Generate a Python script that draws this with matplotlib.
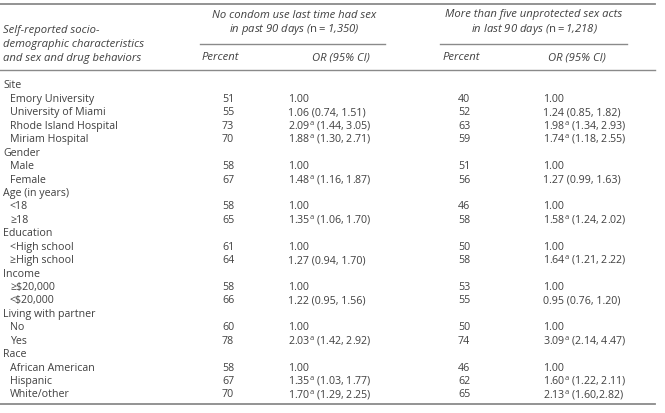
import matplotlib
matplotlib.use("Agg")
import matplotlib.pyplot as plt

plt.rcParams['font.family'] = ['Open Sans', 'DejaVu Sans']
plt.rcParams['mathtext.fontset'] = 'custom'
plt.rcParams['mathtext.rm'] = 'Open Sans'
plt.rcParams['mathtext.it'] = 'Open Sans:italic'

# ---- data ----
labels = ["Site", "Emory University", "University of Miami", "Rhode Island Hospital", "Miriam Hospital",
          "Gender", "Male", "Female",
          "Age (in years)", "<18", "≥18",
          "Education", "<High school", "≥High school",
          "Income", "≥$20,000", "<$20,000",
          "Living with partner", "No", "Yes",
          "Race", "African American", "Hispanic", "White/other"]
is_group = [True, False, False, False, False,
            True, False, False,
            True, False, False,
            True, False, False,
            True, False, False,
            True, False, False,
            True, False, False, False]

pct1 = ["", "51", "55", "73", "70", "", "58", "67", "", "58", "65", "", "61", "64",
        "", "58", "66", "", "60", "78", "", "58", "67", "70"]
or1 = ["", "1.00", "1.06", "2.09", "1.88", "", "1.00", "1.48", "", "1.00", "1.35", "", "1.00", "1.27",
       "", "1.00", "1.22", "", "1.00", "2.03", "", "1.00", "1.35", "1.70"]
sig1 = [False, False, False, True, True, False, False, True, False, False, True, False, False, False,
        False, False, False, False, False, True, False, False, True, True]
ci1 = ["", "", "(0.74, 1.51)", "(1.44, 3.05)", "(1.30, 2.71)", "", "", "(1.16, 1.87)", "", "", "(1.06, 1.70)",
       "", "", "(0.94, 1.70)", "", "", "(0.95, 1.56)", "", "", "(1.42, 2.92)", "", "", "(1.03, 1.77)", "(1.29, 2.25)"]

pct2 = ["", "40", "52", "63", "59", "", "51", "56", "", "46", "58", "", "50", "58",
        "", "53", "55", "", "50", "74", "", "46", "62", "65"]
or2 = ["", "1.00", "1.24", "1.98", "1.74", "", "1.00", "1.27", "", "1.00", "1.58", "", "1.00", "1.64",
       "", "1.00", "0.95", "", "1.00", "3.09", "", "1.00", "1.60", "2.13"]
sig2 = [False, False, False, True, True, False, False, False, False, False, True, False, False, True,
        False, False, False, False, False, True, False, False, True, True]
ci2 = ["", "", "(0.85, 1.82)", "(1.34, 2.93)", "(1.18, 2.55)", "", "", "(0.99, 1.63)", "", "", "(1.24, 2.02)",
       "", "", "(1.21, 2.22)", "", "", "(0.76, 1.20)", "", "", "(2.14, 4.47)", "", "", "(1.22, 2.11)", "(1.60,2.82)"]

header_left = ["Self-reported socio-", "demographic characteristics", "and sex and drug behaviors"]
group_titles = [["No condom use last time had sex", r"in past 90 days ($\mathrm{n{=}}$1,350)"],
                ["More than five unprotected sex acts", r"in last 90 days ($\mathrm{n{=}}$1,218)"]]
sub_headers = ["Percent", "OR (95% CI)"]

# ---- layout ----
W, H = 665, 413
fig = plt.figure(figsize=(W / 100, H / 100), dpi=100)
ax = fig.add_axes([0, 0, 1, 1])
ax.set_xlim(0, W)
ax.set_ylim(H, 0)
ax.axis("off")

tc = "#404040"
lc = "#8a8a8a"
fs = 7.7
fsh = 8.1

# rules
ax.plot([0, 655], [4, 4], color=lc, lw=1.3)
ax.plot([0, 655], [70, 70], color=lc, lw=1.0)
ax.plot([0, 655], [404, 404], color=lc, lw=1.3)
ax.plot([200, 385], [44, 44], color=lc, lw=1.0)
ax.plot([440, 627], [44, 44], color=lc, lw=1.0)

# header
for i, t in enumerate(header_left):
    ax.text(3, 31 + i * 13.5, t, fontsize=fsh, style="italic", color=tc, va="center", ha="left")
for cx, titles in zip([294, 534], group_titles):
    for i, t in enumerate(titles):
        ax.text(cx, 15 + i * 14.5, t, fontsize=fsh, style="italic", color=tc, va="center", ha="center")
for px, ox in [(202, 312), (443, 548)]:
    ax.text(px, 58, sub_headers[0], fontsize=fsh, style="italic", color=tc, va="center", ha="left")
    ax.text(ox, 58, sub_headers[1], fontsize=fsh, style="italic", color=tc, va="center", ha="left")

# rows
y0, dy = 86, 13.43


def or_text(o, s, c):
    if not o:
        return ""
    t = o + (r"$^{\mathrm{a}}$" if s else "")
    if c:
        t += " " + c
    return t


for i, lab in enumerate(labels):
    y = y0 + i * dy
    x = 3 if is_group[i] else 10
    ax.text(x, y, lab, fontsize=fs, color=tc, va="center", ha="left")
    ax.text(222, y, pct1[i], fontsize=fs, color=tc, va="center", ha="left")
    ax.text(288, y, or_text(or1[i], sig1[i], ci1[i]), fontsize=fs, color=tc, va="center", ha="left")
    ax.text(458, y, pct2[i], fontsize=fs, color=tc, va="center", ha="left")
    ax.text(543, y, or_text(or2[i], sig2[i], ci2[i]), fontsize=fs, color=tc, va="center", ha="left")

fig.savefig("out.png", dpi=100, facecolor="white")
